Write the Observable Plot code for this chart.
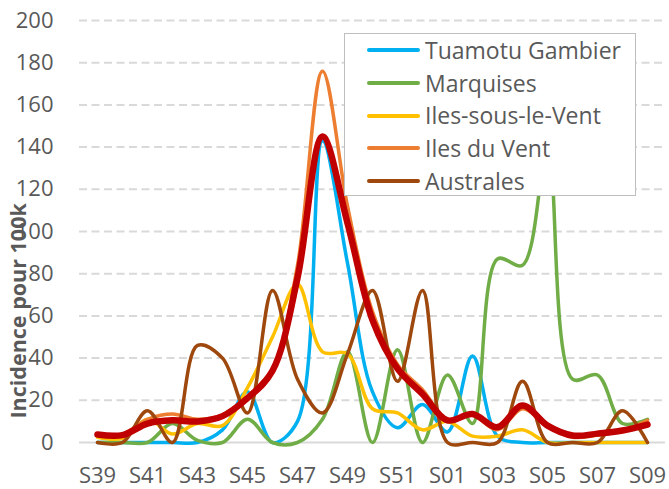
<!DOCTYPE html>
<html>
<head>
<meta charset="utf-8">
<script src="https://cdn.jsdelivr.net/npm/d3@7"></script>
<script src="https://cdn.jsdelivr.net/npm/@observablehq/plot@0.6"></script>
<style>
  html, body { margin: 0; padding: 0; background: #fff; }
  #wrap { position: relative; width: 669px; height: 489px; font-family: "Open Sans", sans-serif; }
  #legend { position: absolute; left: 344px; top: 33px; width: 290px; height: 161px;
    border: 1.5px solid #bfbfbf; background: #fff; box-sizing: content-box; }
  .row { position: relative; height: 32.7px; display: flex; align-items: center; }
  .sw { position: absolute; left: 22px; width: 53px; height: 4px; border-radius: 2px; }
  .lab { position: absolute; left: 80px; font-size: 23px; color: #595959; white-space: nowrap; line-height: 32.7px; }
</style>
</head>
<body>
<div id="wrap"></div>
<script>
const weeks = ["S39","S40","S41","S42","S43","S44","S45","S46","S47","S48","S49","S50","S51","S52",
               "S01","S02","S03","S04","S05","S06","S07","S08","S09"];
const xTickLabels = ["S39","S41","S43","S45","S47","S49","S51","S01","S03","S05","S07","S09"];
const yTicks = [0,20,40,60,80,100,120,140,160,180,200];

const seriesNames = ["Tuamotu Gambier","Marquises","Iles-sous-le-Vent","Iles du Vent","Australes","Total"];
const tuamotu   = [0,0,0,0,0,6,24,0,10,143,85,24,7,18,5,41,3,0,0,0,0,0,0];
const marquises = [0,0,0,9,1,0,11,0,0,11,43,0,44,0,32,9,87,84,140,30,32,9,11];
const islv      = [2.5,2,11,4,9,8,26,50,75,43,42,16,14,6,10,3,3,6,0,0,0,0,0];
const idv       = [3.5,4,11,13.5,11,13,22,35,84,176,112,62,37,25,11,13,6,16,8,2.5,3.5,5.5,10.5];
const australes = [0,0,15,0,46,40,14,72,30,14,42,72,29,72,0,0,0,29,0,0,0,15,0];
const total     = [3.8,3.5,9,10.5,10,12.5,21,34,78,145,104,58,35,23,10.5,13.5,7.3,17.5,8,3.3,4.2,5.7,8.5];

const colors = ["#00b0f0","#70ad47","#ffc000","#ed7d31","#9e480e","#c00000"];
const widths = [3.5,3.5,3.5,3.5,3.5,6.5];
const allValues = [tuamotu, marquises, islv, idv, australes, total];

const tables = allValues.map((vals, s) => weeks.map((w, i) => ({week: w, value: vals[i], series: seriesNames[s]})));

const chart = Plot.plot({
  width: 669,
  height: 489,
  marginLeft: 79,
  marginRight: 4,
  marginTop: 20,
  marginBottom: 47,
  style: {fontFamily: "Open Sans", fontSize: "22px", color: "#595959", background: "white"},
  x: {type: "point", domain: weeks, padding: 0.5, axis: null},
  y: {domain: [0, 200]},
  marks: [
    Plot.gridY(yTicks.slice(1), {stroke: "#d9d9d9", strokeOpacity: 1, strokeWidth: 2, strokeDasharray: "8,4.5"}),
    Plot.ruleY([0], {stroke: "#d9d9d9", strokeWidth: 2}),
    Plot.axisY({ticks: yTicks, tickSize: 0, tickPadding: 26, label: null, fill: "#595959"}),
    Plot.text(xTickLabels, {x: d => d, text: d => d, frameAnchor: "bottom", dy: 33,
      lineAnchor: "middle", fontSize: 22, fill: "#595959"}),
    ...tables.map((t, s) => Plot.lineY(t, {
      x: "week", y: "value", stroke: colors[s], strokeWidth: widths[s],
      curve: "catmull-rom", strokeLinecap: "round", strokeLinejoin: "round"
    })),
    Plot.text(["Incidence pour 100k"], {
      frameAnchor: "bottom-left", text: d => d, rotate: -90, textAnchor: "start",
      dx: -54, dy: -24, fontWeight: "bold", fontSize: 21.5, fill: "#595959"
    })
  ]
});

const wrap = document.getElementById("wrap");
wrap.appendChild(chart);

const legend = document.createElement("div");
legend.id = "legend";
seriesNames.slice(0, 5).forEach((name, i) => {
  const row = document.createElement("div");
  row.className = "row";
  const sw = document.createElement("div");
  sw.className = "sw";
  sw.style.background = colors[i];
  const lab = document.createElement("div");
  lab.className = "lab";
  lab.textContent = name;
  row.appendChild(sw);
  row.appendChild(lab);
  legend.appendChild(row);
});
wrap.appendChild(legend);
</script>
</body>
</html>
